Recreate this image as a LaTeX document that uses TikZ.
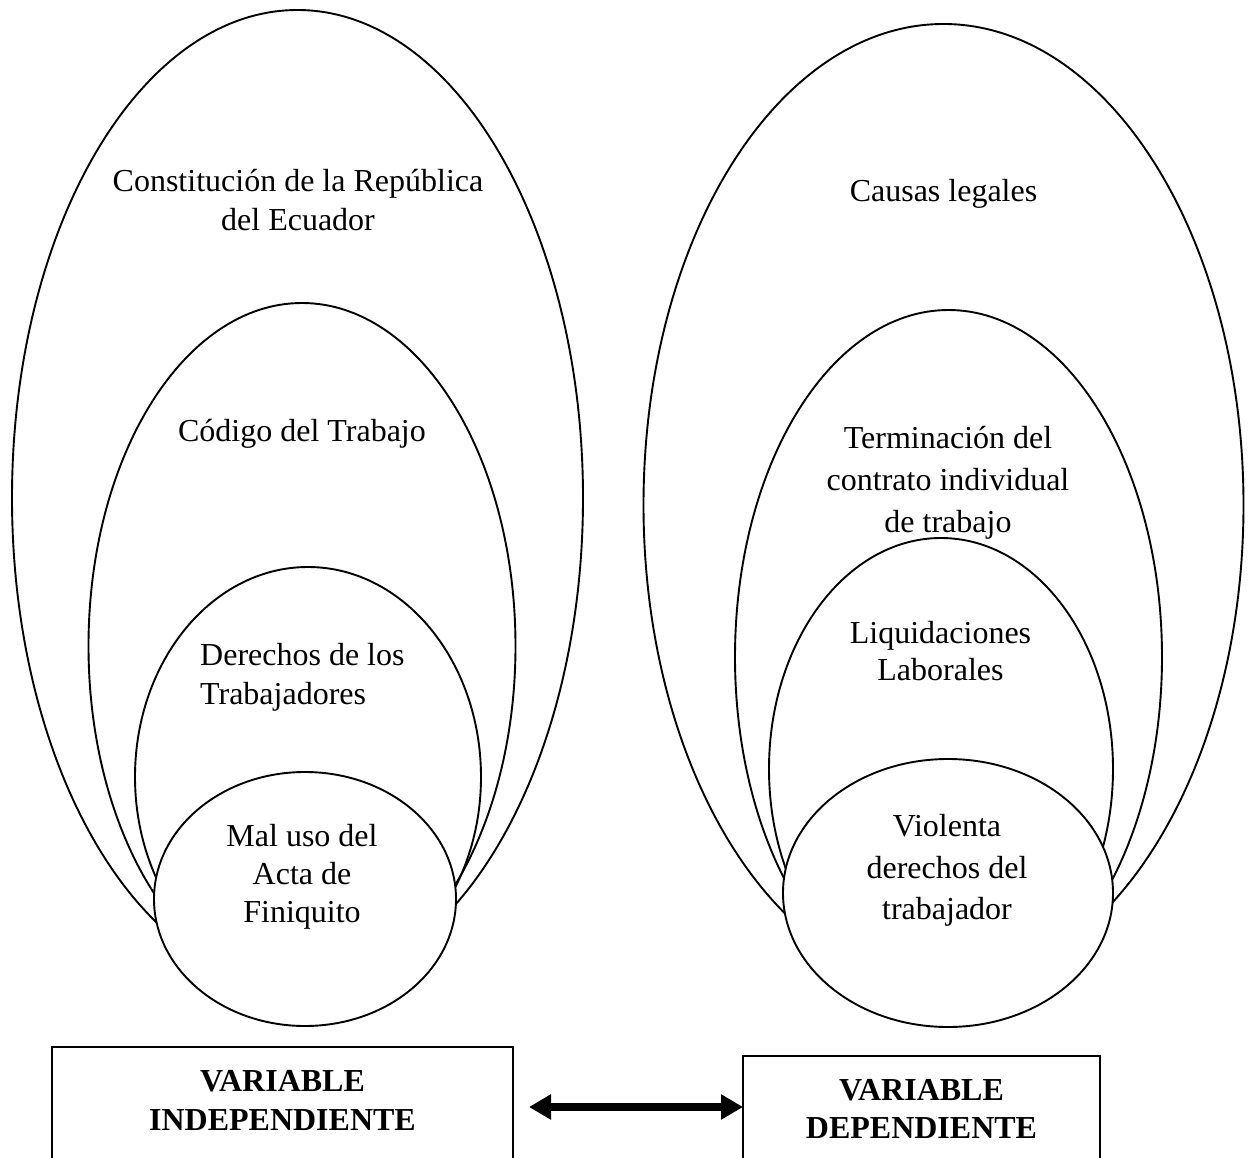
\documentclass[tikz,border=0pt]{standalone}
\usepackage{fontspec}
\setmainfont{Liberation Serif}
\usetikzlibrary{arrows.meta,calc}
\begin{document}
\begin{tikzpicture}[x=1pt,y=-1pt,
  ring/.style={line width=1.9pt},
  disc/.style={line width=1.9pt, fill=white},
  lbl/.style={font=\fontsize{32}{38}\selectfont, inner sep=0pt, anchor=base},
  vlbl/.style={font=\fontsize{32}{38}\selectfont\bfseries, inner sep=0pt, anchor=base},
  varbox/.style={draw, line width=2.2pt, inner sep=0pt, outer sep=0pt},
  biarrow/.style={line width=8pt, {Triangle[length=22pt,width=24pt]}-{Triangle[length=22pt,width=24pt]}}
]
\useasboundingbox (0,0) rectangle (1251,1158);
\clip (0,0) rectangle (1251,1158);

% left group
\draw[ring] (297.5,498) ellipse [x radius=285.5pt, y radius=488pt];
\draw[ring] (302,646) ellipse [x radius=213.5pt, y radius=343pt];
\draw[ring] (308,777) ellipse [x radius=173pt, y radius=210pt];
\draw[disc] (305,899) ellipse [x radius=151pt, y radius=127pt];

% right group
\draw[ring] (943.5,505) ellipse [x radius=300pt, y radius=481pt];
\draw[ring] (948.5,657) ellipse [x radius=213.5pt, y radius=347pt];
\draw[ring] (941,769) ellipse [x radius=172pt, y radius=231pt];
\draw[disc] (948,893) ellipse [x radius=165pt, y radius=134pt];

% left texts
\node[lbl] (c1a) at (298,192) {Constitución de la República};
\node[lbl] (c1b) at (298,231) {del Ecuador};
\node[lbl] (c2) at (302,441) {Código del Trabajo};
\node[lbl, anchor=base west] (c3a) at (200,665) {Derechos de los};
\node[lbl, anchor=base west] (c3b) at (200,704) {Trabajadores};
\node[lbl] (c4a) at (302,846) {Mal uso del};
\node[lbl] (c4b) at (302,884) {Acta de};
\node[lbl] (c4c) at (302,922) {Finiquito};

% right texts
\node[lbl] (d1) at (943.5,202) {Causas legales};
\node[lbl] (d2a) at (948,448) {Terminación del};
\node[lbl] (d2b) at (948,490) {contrato individual};
\node[lbl] (d2c) at (948,532) {de trabajo};
\node[lbl] (d3a) at (940.5,643) {Liquidaciones};
\node[lbl] (d3b) at (940.5,680) {Laborales};
\node[lbl] (d4a) at (947,836) {Violenta};
\node[lbl] (d4b) at (947,878) {derechos del};
\node[lbl] (d4c) at (947,919) {trabajador};

% boxes
\node[varbox, minimum width=461pt, minimum height=153pt] (boxL) at (282.5,1123.5) {};
\node[varbox, minimum width=357pt, minimum height=144pt] (boxR) at (921.5,1128) {};
\node[vlbl] (vL1) at (282.5,1091) {VARIABLE};
\node[vlbl] (vL2) at (282.5,1130) {INDEPENDIENTE};
\node[vlbl] (vR1) at (921.5,1100) {VARIABLE};
\node[vlbl] (vR2) at (921.5,1138) {DEPENDIENTE};

% arrow
\coordinate (ay) at (0,1107);
\draw[biarrow, shorten <=16pt] (boxL.east |- ay) -- (boxR.west |- ay);
\end{tikzpicture}
\end{document}
